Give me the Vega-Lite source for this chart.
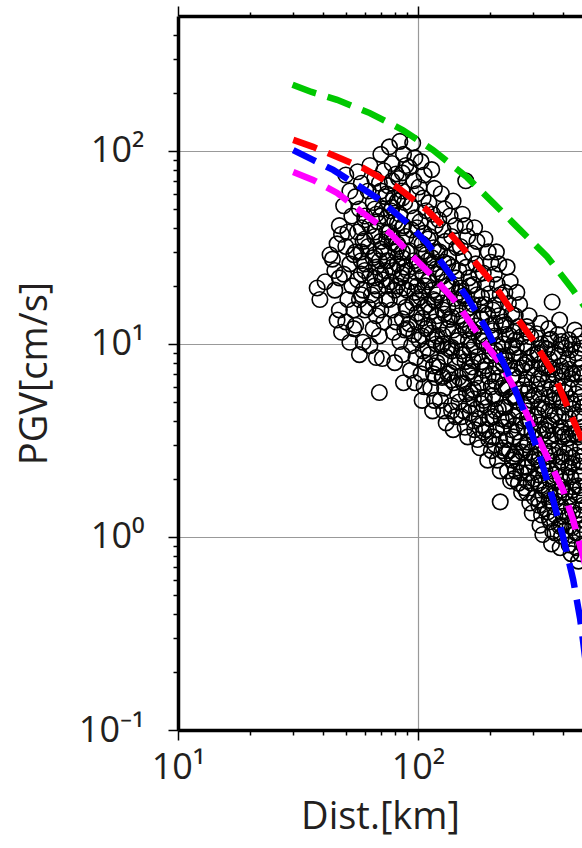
{
"$schema":"https://vega.github.io/schema/vega-lite/v6.json",
"width":404,"height":714,
"padding":{"left":16,"top":5,"right":0,"bottom":0},
"background":"white",
"config":{"view":{"stroke":null},"axis":{"labelFont":"Open Sans","titleFont":"Open Sans","labelColor":"#231f20","titleColor":"#231f20","labelFontSize":36,"titleFontSize":38,"titleFontWeight":"normal","domainColor":"black","domainWidth":3.5,"tickColor":"black","tickWidth":1.5,"gridColor":"#999999","gridWidth":1.2}},
"datasets":{
"pts":[
{"d":38,"p":19.5},{"d":39,"p":17},{"d":41,"p":21},{"d":43,"p":29},{"d":44,"p":27.5},
{"d":45,"p":24},{"d":46,"p":33},{"d":47,"p":41},{"d":48,"p":37},{"d":45,"p":19},{"d":47,"p":15},{"d":46,"p":13.3},{"d":48,"p":11.5},{"d":47,"p":22},
{"d":50,"p":75},{"d":52,"p":62},{"d":49,"p":52},{"d":53,"p":46},{"d":51,"p":38},{"d":50,"p":32},{"d":54,"p":29},{"d":52,"p":26},{"d":49,"p":23},{"d":53,"p":20},{"d":51,"p":17},{"d":54,"p":15},{"d":50,"p":13},{"d":52,"p":10.2},{"d":54,"p":12},
{"d":56,"p":78},{"d":58,"p":68},{"d":55,"p":58},{"d":57,"p":50},{"d":60,"p":44},{"d":56,"p":38},{"d":59,"p":34},{"d":55,"p":30},{"d":58,"p":27},{"d":60,"p":24},{"d":56,"p":21.5},{"d":59,"p":19},{"d":57,"p":17},{"d":60,"p":15},{"d":55,"p":12.5},{"d":59,"p":10.2},{"d":57,"p":8.8},
{"d":58,"p":40},{"d":58,"p":30},{"d":58,"p":23},{"d":58,"p":18},
{"d":60,"p":46},{"d":60,"p":35},{"d":60,"p":26},
{"d":63,"p":84},{"d":66,"p":72},{"d":62,"p":62},{"d":65,"p":54},{"d":67,"p":47},{"d":63,"p":41},{"d":66,"p":36},{"d":62,"p":32},{"d":65,"p":28},{"d":67,"p":25},{"d":63,"p":22.5},{"d":66,"p":20},{"d":64,"p":18},{"d":62,"p":15.5},{"d":67,"p":14},{"d":65,"p":12},{"d":63,"p":9.8},{"d":67,"p":8.5},
{"d":66,"p":50},{"d":66,"p":38},{"d":66,"p":29},{"d":66,"p":22},{"d":66,"p":17},
{"d":70,"p":96},{"d":72,"p":79},{"d":69,"p":68},{"d":73,"p":58},{"d":71,"p":50},{"d":68,"p":43},{"d":74,"p":38},{"d":70,"p":34},{"d":72,"p":30},{"d":69,"p":27},{"d":73,"p":24},{"d":71,"p":21.5},{"d":68,"p":19},{"d":74,"p":17},{"d":70,"p":15},{"d":72,"p":13},{"d":69,"p":11},{"d":71,"p":8.4},{"d":69,"p":5.6},
{"d":70,"p":62},{"d":70,"p":46},{"d":70,"p":31},{"d":70,"p":23},
{"d":74,"p":60},{"d":74,"p":45},{"d":74,"p":35},{"d":74,"p":27},{"d":74,"p":20},
{"d":76,"p":105},{"d":78,"p":86},{"d":81,"p":76},{"d":75,"p":66},{"d":79,"p":57},{"d":77,"p":49},{"d":80,"p":43},{"d":76,"p":38},{"d":78,"p":33.5},{"d":81,"p":30},{"d":75,"p":27},{"d":79,"p":24},{"d":77,"p":21},{"d":80,"p":19},{"d":76,"p":17},{"d":78,"p":15},{"d":81,"p":13},{"d":79,"p":11.5},{"d":80,"p":8},
{"d":78,"p":70},{"d":78,"p":51},{"d":78,"p":36},{"d":78,"p":25},
{"d":82,"p":55},{"d":82,"p":42},{"d":82,"p":33},{"d":82,"p":26},{"d":82,"p":20},
{"d":84,"p":112},{"d":87,"p":96},{"d":89,"p":84},{"d":83,"p":72},{"d":86,"p":62},{"d":88,"p":54},{"d":84,"p":47},{"d":87,"p":41},{"d":89,"p":36},{"d":83,"p":32},{"d":86,"p":28},{"d":88,"p":25},{"d":85,"p":22},{"d":87,"p":19.5},{"d":84,"p":17.5},{"d":89,"p":15.5},{"d":86,"p":13.5},{"d":88,"p":11.8},{"d":84,"p":10.3},{"d":87,"p":6.3},{"d":86,"p":8.8},
{"d":86,"p":77},{"d":86,"p":57},{"d":86,"p":40},{"d":86,"p":30},{"d":86,"p":23},
{"d":90,"p":30},{"d":90,"p":24},{"d":90,"p":19},{"d":90,"p":15},{"d":90,"p":12},
{"d":95,"p":110},{"d":97,"p":92},{"d":92,"p":82},{"d":96,"p":70},{"d":99,"p":60},{"d":93,"p":52},{"d":97,"p":45},{"d":94,"p":39},{"d":99,"p":34.5},{"d":92,"p":30.5},{"d":96,"p":27},{"d":98,"p":23.5},{"d":93,"p":21},{"d":97,"p":18.5},{"d":95,"p":16.3},{"d":99,"p":14.4},{"d":92,"p":12.7},{"d":96,"p":11.2},{"d":94,"p":9.8},{"d":98,"p":8.5},{"d":93,"p":7.3},{"d":97,"p":6.3},
{"d":99,"p":40},{"d":99,"p":26},{"d":99,"p":20},{"d":99,"p":17},{"d":99,"p":13},
{"d":103,"p":88},{"d":106,"p":75},{"d":101,"p":65},{"d":105,"p":57},{"d":108,"p":49},{"d":102,"p":43},{"d":106,"p":37.5},{"d":104,"p":33},{"d":108,"p":29},{"d":101,"p":25.5},{"d":105,"p":22.5},{"d":107,"p":20},{"d":102,"p":17.5},{"d":106,"p":15.5},{"d":104,"p":13.6},{"d":108,"p":12},{"d":101,"p":10.5},{"d":105,"p":9.2},{"d":107,"p":8},{"d":103,"p":7},{"d":106,"p":6},{"d":104,"p":5.1},
{"d":104,"p":30},{"d":104,"p":19},{"d":104,"p":11},
{"d":110,"p":35},{"d":110,"p":27},{"d":110,"p":21},{"d":110,"p":16},{"d":110,"p":12.5},{"d":110,"p":9.5},
{"d":114,"p":80},{"d":117,"p":64},{"d":111,"p":54},{"d":115,"p":47},{"d":118,"p":41},{"d":112,"p":36},{"d":116,"p":31.5},{"d":114,"p":28},{"d":119,"p":24.5},{"d":111,"p":21.5},{"d":115,"p":19},{"d":118,"p":16.7},{"d":113,"p":14.7},{"d":117,"p":13},{"d":114,"p":11.4},{"d":119,"p":10},{"d":112,"p":8.8},{"d":116,"p":7.7},{"d":118,"p":6.7},{"d":113,"p":5.9},{"d":117,"p":5.1},{"d":115,"p":4.5},
{"d":116,"p":26},{"d":116,"p":17},{"d":116,"p":10.5},{"d":116,"p":7},
{"d":120,"p":30},{"d":120,"p":23},{"d":120,"p":18},{"d":120,"p":14},{"d":120,"p":11},{"d":120,"p":8},
{"d":125,"p":60},{"d":129,"p":50},{"d":122,"p":44},{"d":127,"p":39},{"d":130,"p":34},{"d":123,"p":30},{"d":128,"p":26.5},{"d":124,"p":23.5},{"d":131,"p":21},{"d":121,"p":18.5},{"d":126,"p":16.3},{"d":129,"p":14.3},{"d":123,"p":12.6},{"d":127,"p":11.1},{"d":125,"p":9.8},{"d":130,"p":8.6},{"d":122,"p":7.6},{"d":126,"p":6.7},{"d":129,"p":5.9},{"d":124,"p":5.1},{"d":128,"p":4.5},{"d":131,"p":3.9},
{"d":127,"p":22.5},{"d":127,"p":15},{"d":127,"p":10},{"d":127,"p":6.8},
{"d":133,"p":26},{"d":133,"p":20},{"d":133,"p":15.5},{"d":133,"p":12},{"d":133,"p":9.5},{"d":133,"p":7},
{"d":140,"p":55},{"d":136,"p":46},{"d":143,"p":41},{"d":138,"p":36},{"d":145,"p":31.5},{"d":134,"p":28},{"d":139,"p":25},{"d":144,"p":22},{"d":137,"p":19.5},{"d":142,"p":17.2},{"d":146,"p":15.2},{"d":135,"p":13.4},{"d":140,"p":11.8},{"d":145,"p":10.4},{"d":138,"p":9.2},{"d":143,"p":8.1},{"d":136,"p":7.1},{"d":141,"p":6.3},{"d":146,"p":5.5},{"d":138,"p":4.8},{"d":143,"p":4.2},{"d":140,"p":3.6},
{"d":138,"p":20},{"d":138,"p":13.8},{"d":138,"p":9.6},{"d":138,"p":6.5},{"d":138,"p":4.5},
{"d":148,"p":24},{"d":148,"p":18.5},{"d":148,"p":14},{"d":148,"p":11},{"d":148,"p":8.5},{"d":148,"p":6.7},{"d":148,"p":5},
{"d":158,"p":70},
{"d":153,"p":47},{"d":157,"p":41},{"d":161,"p":36},{"d":150,"p":32},{"d":155,"p":28},{"d":159,"p":25},{"d":163,"p":22},{"d":151,"p":19.5},{"d":156,"p":17.2},{"d":160,"p":15.2},{"d":153,"p":13.4},{"d":158,"p":11.8},{"d":162,"p":10.4},{"d":152,"p":9.2},{"d":157,"p":8.1},{"d":161,"p":7.1},{"d":154,"p":6.3},{"d":159,"p":5.5},{"d":163,"p":4.8},{"d":152,"p":4.2},{"d":157,"p":3.7},{"d":161,"p":3.3},
{"d":155,"p":17.8},{"d":155,"p":12.5},{"d":155,"p":8.8},{"d":155,"p":6.2},{"d":155,"p":4.5},
{"d":165,"p":20},{"d":165,"p":15.5},{"d":165,"p":12},{"d":165,"p":9.3},{"d":165,"p":7.2},{"d":165,"p":5.6},{"d":165,"p":4.4},
{"d":172,"p":40},{"d":176,"p":34},{"d":168,"p":29.5},{"d":174,"p":26},{"d":179,"p":23},{"d":170,"p":20.3},{"d":176,"p":18},{"d":181,"p":15.9},{"d":169,"p":14},{"d":174,"p":12.4},{"d":179,"p":11},{"d":171,"p":9.7},{"d":177,"p":8.6},{"d":168,"p":7.6},{"d":173,"p":6.7},{"d":178,"p":5.9},{"d":170,"p":5.2},{"d":175,"p":4.6},{"d":180,"p":4.1},{"d":172,"p":3.6},{"d":177,"p":3.2},{"d":181,"p":2.9},
{"d":170,"p":16},{"d":170,"p":11.5},{"d":170,"p":8.2},{"d":170,"p":5.8},{"d":170,"p":4},
{"d":184,"p":17.5},{"d":184,"p":13.5},{"d":184,"p":10.4},{"d":184,"p":8.1},{"d":184,"p":6.3},{"d":184,"p":4.9},{"d":184,"p":3.8},
{"d":190,"p":35},{"d":196,"p":30},{"d":201,"p":26.5},{"d":187,"p":23.3},{"d":193,"p":20.6},{"d":198,"p":18.2},{"d":190,"p":16},{"d":195,"p":14.2},{"d":201,"p":12.5},{"d":188,"p":11.1},{"d":194,"p":9.8},{"d":199,"p":8.7},{"d":191,"p":7.7},{"d":196,"p":6.8},{"d":202,"p":6},{"d":189,"p":5.3},{"d":194,"p":4.7},{"d":199,"p":4.1},{"d":192,"p":3.6},{"d":197,"p":3.2},{"d":202,"p":2.8},{"d":195,"p":2.5},
{"d":188,"p":14.5},{"d":188,"p":10.3},{"d":188,"p":7.3},{"d":188,"p":5.1},{"d":188,"p":3.5},
{"d":205,"p":15},{"d":205,"p":11.7},{"d":205,"p":9},{"d":205,"p":7},{"d":205,"p":5.4},{"d":205,"p":4.2},{"d":205,"p":3.3},
{"d":212,"p":30},{"d":217,"p":26},{"d":208,"p":23},{"d":214,"p":20.3},{"d":220,"p":18},{"d":210,"p":15.9},{"d":217,"p":14},{"d":223,"p":12.4},{"d":209,"p":11},{"d":215,"p":9.7},{"d":221,"p":8.6},{"d":211,"p":7.6},{"d":218,"p":6.7},{"d":224,"p":5.9},{"d":210,"p":5.2},{"d":216,"p":4.6},{"d":222,"p":4.1},{"d":212,"p":3.6},{"d":219,"p":3.2},{"d":224,"p":2.8},{"d":214,"p":2.5},{"d":220,"p":2.2},{"d":220,"p":1.52},
{"d":210,"p":12.8},{"d":210,"p":9.3},{"d":210,"p":6.4},{"d":210,"p":4.5},{"d":210,"p":3.0},
{"d":227,"p":13},{"d":227,"p":10},{"d":227,"p":7.8},{"d":227,"p":6.1},{"d":227,"p":4.7},{"d":227,"p":3.7},{"d":227,"p":2.9},
{"d":235,"p":25},{"d":242,"p":21},{"d":230,"p":18.5},{"d":238,"p":16.2},{"d":246,"p":14.3},{"d":232,"p":12.6},{"d":240,"p":11.1},{"d":247,"p":9.8},{"d":234,"p":8.7},{"d":241,"p":7.7},{"d":247,"p":6.8},{"d":236,"p":6},{"d":243,"p":5.3},{"d":231,"p":4.7},{"d":238,"p":4.1},{"d":245,"p":3.6},{"d":233,"p":3.2},{"d":240,"p":2.8},{"d":247,"p":2.5},{"d":236,"p":2.2},{"d":243,"p":1.95},
{"d":232,"p":11.2},{"d":232,"p":8.2},{"d":232,"p":5.8},{"d":232,"p":4.0},{"d":232,"p":2.7},
{"d":250,"p":11.5},{"d":250,"p":8.9},{"d":250,"p":6.9},{"d":250,"p":5.4},{"d":250,"p":4.2},{"d":250,"p":3.3},{"d":250,"p":2.6},{"d":250,"p":2.0},
{"d":258,"p":18.5},{"d":265,"p":16},{"d":254,"p":14},{"d":262,"p":12.3},{"d":270,"p":10.9},{"d":257,"p":9.6},{"d":264,"p":8.5},{"d":271,"p":7.5},{"d":259,"p":6.6},{"d":266,"p":5.8},{"d":255,"p":5.1},{"d":263,"p":4.5},{"d":270,"p":4},{"d":258,"p":3.5},{"d":266,"p":3.1},{"d":272,"p":2.75},{"d":260,"p":2.45},{"d":268,"p":2.15},{"d":262,"p":1.9},{"d":270,"p":1.7},
{"d":255,"p":10.5},{"d":255,"p":7.5},{"d":255,"p":5.3},{"d":255,"p":3.8},{"d":255,"p":2.7},{"d":255,"p":2.2},
{"d":277,"p":10},{"d":277,"p":7.8},{"d":277,"p":6.1},{"d":277,"p":4.8},{"d":277,"p":3.7},{"d":277,"p":2.9},{"d":277,"p":2.3},{"d":277,"p":1.8},
{"d":290,"p":14},{"d":284,"p":12.3},{"d":295,"p":10.9},{"d":286,"p":9.6},{"d":293,"p":8.5},{"d":299,"p":7.5},{"d":283,"p":6.6},{"d":290,"p":5.8},{"d":297,"p":5.1},{"d":285,"p":4.5},{"d":292,"p":4},{"d":299,"p":3.5},{"d":287,"p":3.1},{"d":294,"p":2.75},{"d":300,"p":2.45},{"d":289,"p":2.15},{"d":296,"p":1.9},{"d":284,"p":1.7},{"d":292,"p":1.5},{"d":299,"p":1.33},
{"d":285,"p":11.5},{"d":285,"p":8},{"d":285,"p":5.6},{"d":285,"p":4.1},{"d":285,"p":3},{"d":285,"p":2.3},{"d":285,"p":1.95},
{"d":305,"p":8.8},{"d":305,"p":6.9},{"d":305,"p":5.4},{"d":305,"p":4.2},{"d":305,"p":3.3},{"d":305,"p":2.6},{"d":305,"p":2.0},{"d":305,"p":1.6},
{"d":324,"p":12.8},{"d":312,"p":11.3},{"d":326,"p":10},{"d":315,"p":8.9},{"d":323,"p":7.9},{"d":330,"p":7},{"d":313,"p":6.2},{"d":320,"p":5.5},{"d":328,"p":4.9},{"d":316,"p":4.3},{"d":324,"p":3.8},{"d":331,"p":3.4},{"d":314,"p":3},{"d":321,"p":2.65},{"d":329,"p":2.35},{"d":317,"p":2.1},{"d":325,"p":1.85},{"d":332,"p":1.65},{"d":319,"p":1.46},{"d":327,"p":1.3},{"d":322,"p":1.15},{"d":331,"p":1.03},
{"d":318,"p":9},{"d":318,"p":6.6},{"d":318,"p":4.7},{"d":318,"p":3.5},{"d":318,"p":2.5},{"d":318,"p":1.9},{"d":318,"p":1.55},
{"d":338,"p":9.5},{"d":338,"p":7.5},{"d":338,"p":5.9},{"d":338,"p":4.6},{"d":338,"p":3.6},{"d":338,"p":2.8},{"d":338,"p":2.2},{"d":338,"p":1.75},{"d":338,"p":1.4},
{"d":362,"p":16.5},{"d":350,"p":12},{"d":358,"p":10.6},{"d":346,"p":9.4},{"d":354,"p":8.3},{"d":363,"p":7.4},{"d":348,"p":6.5},{"d":356,"p":5.8},{"d":365,"p":5.1},{"d":351,"p":4.5},{"d":359,"p":4},{"d":347,"p":3.55},{"d":355,"p":3.15},{"d":364,"p":2.8},{"d":350,"p":2.48},{"d":358,"p":2.2},{"d":366,"p":1.95},{"d":352,"p":1.73},{"d":360,"p":1.53},{"d":348,"p":1.35},{"d":356,"p":1.2},{"d":364,"p":1.07},{"d":360,"p":0.92},
{"d":352,"p":10.5},{"d":352,"p":7.6},{"d":352,"p":5.3},{"d":352,"p":3.8},{"d":352,"p":2.7},{"d":352,"p":2},{"d":352,"p":1.55},{"d":352,"p":1.25},
{"d":372,"p":9},{"d":372,"p":7},{"d":372,"p":5.5},{"d":372,"p":4.3},{"d":372,"p":3.4},{"d":372,"p":2.65},{"d":372,"p":2.1},{"d":372,"p":1.65},{"d":372,"p":1.3},{"d":372,"p":1.05},
{"d":389,"p":13.3},{"d":383,"p":11.2},{"d":395,"p":9.9},{"d":385,"p":8.7},{"d":392,"p":7.7},{"d":400,"p":6.8},{"d":381,"p":6},{"d":389,"p":5.3},{"d":397,"p":4.7},{"d":384,"p":4.2},{"d":393,"p":3.7},{"d":401,"p":3.3},{"d":386,"p":2.9},{"d":395,"p":2.6},{"d":382,"p":2.3},{"d":390,"p":2.05},{"d":398,"p":1.82},{"d":385,"p":1.62},{"d":394,"p":1.44},{"d":402,"p":1.28},{"d":388,"p":1.14},{"d":396,"p":1.01},{"d":391,"p":0.88},
{"d":395,"p":10.3},{"d":395,"p":7.2},{"d":395,"p":5.1},{"d":395,"p":3.5},{"d":395,"p":2.45},{"d":395,"p":1.75},{"d":395,"p":1.35},{"d":395,"p":1.15},
{"d":410,"p":9.5},{"d":410,"p":7.2},{"d":410,"p":5.6},{"d":410,"p":4.4},{"d":410,"p":3.4},{"d":410,"p":2.7},{"d":410,"p":2.1},{"d":410,"p":1.7},{"d":410,"p":1.35},{"d":410,"p":1.08},
{"d":450,"p":11.8},{"d":425,"p":10.5},{"d":432,"p":9.3},{"d":420,"p":8.3},{"d":428,"p":7.4},{"d":437,"p":6.6},{"d":423,"p":5.9},{"d":431,"p":5.2},{"d":440,"p":4.6},{"d":426,"p":4.1},{"d":434,"p":3.65},{"d":421,"p":3.25},{"d":429,"p":2.9},{"d":438,"p":2.58},{"d":424,"p":2.3},{"d":433,"p":2.05},{"d":441,"p":1.82},{"d":427,"p":1.62},{"d":436,"p":1.44},{"d":422,"p":1.28},{"d":430,"p":1.14},{"d":439,"p":1.02},{"d":426,"p":0.91},{"d":434,"p":0.82},
{"d":440,"p":10},{"d":440,"p":7},{"d":440,"p":4.9},{"d":440,"p":3.4},{"d":440,"p":2.4},{"d":440,"p":1.75},{"d":440,"p":1.35},{"d":440,"p":1.12},
{"d":455,"p":9},{"d":455,"p":7},{"d":455,"p":5.5},{"d":455,"p":4.3},{"d":455,"p":3.4},{"d":455,"p":2.65},{"d":455,"p":2.1},{"d":455,"p":1.65},{"d":455,"p":1.3},{"d":455,"p":1.05},{"d":455,"p":0.88},
{"d":470,"p":11},{"d":480,"p":9.5},{"d":462,"p":8.4},{"d":475,"p":7.5},{"d":485,"p":6.7},{"d":466,"p":6},{"d":478,"p":5.3},{"d":488,"p":4.7},{"d":470,"p":4.2},{"d":482,"p":3.7},{"d":465,"p":3.3},{"d":476,"p":2.95},{"d":487,"p":2.62},{"d":469,"p":2.33},{"d":480,"p":2.07},{"d":463,"p":1.84},{"d":474,"p":1.64},{"d":486,"p":1.46},{"d":468,"p":1.3},{"d":479,"p":1.16},{"d":472,"p":1.03},{"d":484,"p":0.92},{"d":476,"p":0.82},{"d":466,"p":0.75},
{"d":475,"p":10},{"d":475,"p":7},{"d":475,"p":4.9},{"d":475,"p":3.4},{"d":475,"p":2.45},{"d":475,"p":1.8},{"d":475,"p":1.38},{"d":475,"p":1.1}
],
"crv":[
{"s":"g","d":30,"p":220},{"s":"g","d":36,"p":202},{"s":"g","d":46,"p":184},{"s":"g","d":63,"p":157},{"s":"g","d":86.6,"p":128},{"s":"g","d":115.5,"p":101},{"s":"g","d":160,"p":73},{"s":"g","d":205,"p":54},{"s":"g","d":266,"p":39},{"s":"g","d":345,"p":28.3},{"s":"g","d":443,"p":19},{"s":"g","d":482,"p":16.3},{"s":"g","d":573,"p":12.5},
{"s":"r","d":30.2,"p":114},{"s":"r","d":36.5,"p":105},{"s":"r","d":44.3,"p":95},{"s":"r","d":59,"p":81.6},{"s":"r","d":81.7,"p":65},{"s":"r","d":109,"p":49.4},{"s":"r","d":132,"p":39},{"s":"r","d":160,"p":29.6},{"s":"r","d":205,"p":20.7},{"s":"r","d":249,"p":14.5},{"s":"r","d":301,"p":10.5},{"s":"r","d":365,"p":7.1},{"s":"r","d":430,"p":4.39},{"s":"r","d":482,"p":3.18},{"s":"r","d":573,"p":1.75},
{"s":"m","d":30.2,"p":77.8},{"s":"m","d":36.5,"p":70.8},{"s":"m","d":46,"p":60.6},{"s":"m","d":59,"p":47.7},{"s":"m","d":76.4,"p":37.6},{"s":"m","d":95.3,"p":28.3},{"s":"m","d":115.5,"p":22.3},{"s":"m","d":145,"p":16.3},{"s":"m","d":181,"p":10.9},{"s":"m","d":220,"p":7.97},{"s":"m","d":254,"p":5.78},{"s":"m","d":290,"p":4.1},{"s":"m","d":345,"p":2.6},{"s":"m","d":402,"p":1.75},{"s":"m","d":443,"p":1.22},{"s":"m","d":482,"p":0.83},{"s":"m","d":573,"p":0.37},
{"s":"b","d":30.2,"p":101},{"s":"b","d":36.5,"p":89.8},{"s":"b","d":44.3,"p":79.7},{"s":"b","d":55.7,"p":66.7},{"s":"b","d":69.5,"p":55.7},{"s":"b","d":90,"p":42.4},{"s":"b","d":109,"p":33.4},{"s":"b","d":132,"p":24.2},{"s":"b","d":160,"p":17.5},{"s":"b","d":194,"p":11.8},{"s":"b","d":235,"p":7.3},{"s":"b","d":274,"p":4.6},{"s":"b","d":322,"p":2.6},{"s":"b","d":365,"p":1.56},{"s":"b","d":402,"p":1.0},{"s":"b","d":443,"p":0.6},{"s":"b","d":473,"p":0.38},{"s":"b","d":482,"p":0.32},{"s":"b","d":520,"p":0.15}
]
},
"layer":[
{"data":{"name":"pts"},
 "mark":{"type":"point","shape":"circle","filled":false,"size":240,"strokeWidth":1.6,"color":"black","opacity":1,"clip":true},
 "encoding":{
  "x":{"field":"d","type":"quantitative","scale":{"type":"log","domain":[10,482],"nice":false},
   "axis":{"orient":"bottom","values":[10,20,30,40,50,60,70,80,90,100,200,300,400],
    "labelExpr":"datum.value==10?'10¹':datum.value==100?'10²':''",
    "labelPadding":10,"labelFlush":false,"labelOverlap":false,"title":"Dist.[km]","titlePadding":13,
    "tickSize":{"condition":{"test":"datum.value==10||datum.value==100","value":10},"value":5},
    "grid":true,"gridOpacity":{"condition":{"test":"datum.value==100","value":1},"value":0}}},
  "y":{"field":"p","type":"quantitative","scale":{"type":"log","domain":[0.1,500],"nice":false},
   "axis":{"orient":"left","values":[0.1,0.2,0.3,0.4,0.5,0.6,0.7,0.8,0.9,1,2,3,4,5,6,7,8,9,10,20,30,40,50,60,70,80,90,100,200,300,400],
    "labelExpr":"datum.value==0.1?'10⁻¹':datum.value==1?'10⁰':datum.value==10?'10¹':datum.value==100?'10²':''",
    "labelPadding":24,"labelFlush":false,"labelOverlap":false,"title":"PGV[cm/s]","titlePadding":24,
    "tickSize":{"condition":{"test":"datum.value==0.1||datum.value==1||datum.value==10||datum.value==100","value":10},"value":5},
    "grid":true,"gridOpacity":{"condition":{"test":"datum.value==1||datum.value==10||datum.value==100","value":1},"value":0}}}
 }},
{"data":{"name":"crv"},
 "mark":{"type":"line","strokeWidth":6.5,"strokeDash":[25,12],"strokeCap":"butt","clip":true},
 "encoding":{
  "x":{"field":"d","type":"quantitative",
   "axis":{"orient":"top","values":[10,20,30,40,50,60,70,80,90,100,200,300,400],"labels":false,"title":null,"grid":false,
    "tickSize":{"condition":{"test":"datum.value==10||datum.value==100","value":10},"value":4}}},
  "y":{"field":"p","type":"quantitative"},
  "color":{"field":"s","type":"nominal","scale":{"domain":["g","r","m","b"],"range":["#00c800","#ff0000","#ff00ff","#0000ff"]},"legend":null}
 }}
],
"resolve":{"axis":{"x":"independent"}}
}
